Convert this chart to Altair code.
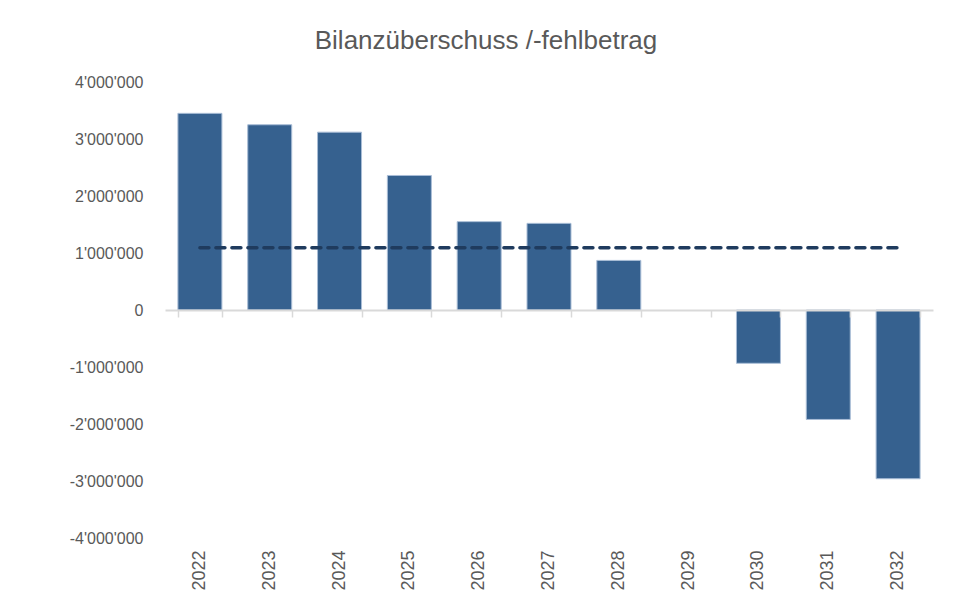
import altair as alt
import pandas as pd

years = ["2022", "2023", "2024", "2025", "2026", "2027", "2028", "2029", "2030", "2031", "2032"]
values = [3450000, 3250000, 3120000, 2360000, 1550000, 1520000, 870000, 0, -935000, -1920000, -2960000]
reference_line = [1090000] * len(years)

df = pd.DataFrame({"year": years, "value": values, "ref": reference_line})

FONT = "Liberation Sans, Arial, sans-serif"
TXT = "#595959"
W, H = 768, 456

xscale = alt.Scale(paddingInner=0.37, paddingOuter=0.185)
yscale = alt.Scale(domain=[-4000000, 4000000], nice=False, zero=False)

label_expr = "(datum.value < 0 ? '-' : '') + replace(format(abs(datum.value), ','), regexp(',', 'g'), \"'\")"

base = alt.Chart(df)

bars = base.mark_bar(color="#36618F", stroke="#A9BDD6", strokeWidth=1).encode(
    x=alt.X("year:O", scale=xscale, sort=years, title=None,
            axis=alt.Axis(orient="bottom", labelAngle=-90, labelAlign="right",
                          labelBaseline="middle", ticks=False, domain=False,
                          labelPadding=12, labelFont=FONT, labelFontSize=18,
                          labelColor=TXT)),
    y=alt.Y("value:Q", scale=yscale, title=None,
            axis=alt.Axis(values=[-4000000, -3000000, -2000000, -1000000, 0,
                                  1000000, 2000000, 3000000, 4000000],
                          labelExpr=label_expr, grid=False, ticks=False, domain=False,
                          labelPadding=22, labelFont=FONT, labelFontSize=16,
                          labelColor=TXT)),
    strokeOpacity=alt.condition("datum.value == 0", alt.value(0), alt.value(1)),
)

zero_axis = base.mark_tick(opacity=0).encode(
    x=alt.X("year:O", scale=xscale, sort=years, title=None,
            axis=alt.Axis(orient="bottom", offset=-H / 2, labels=False,
                          tickBand="extent", domainColor="#D9D9D9", domainWidth=2,
                          tickColor="#D9D9D9", tickWidth=1.5, tickSize=7, zindex=1)),
    y=alt.Y("value:Q", scale=yscale, title=None),
)

line = base.mark_line(color="#1F3B5E", strokeWidth=3.5, strokeDash=[9, 7],
                      strokeCap="round").encode(
    x=alt.X("year:O", scale=xscale, sort=years, axis=None),
    y=alt.Y("ref:Q", scale=yscale, title=None),
)

chart = alt.layer(bars, zero_axis, line).resolve_axis(x="independent").properties(
    width=W, height=H,
    background="white",
    title=alt.TitleParams("Bilanzüberschuss /-fehlbetrag", font=FONT, fontSize=26,
                          fontWeight="normal", color=TXT, offset=20, dx=-63),
    autosize=alt.AutoSizeParams(type="none"),
    padding={"left": 157, "top": 74, "right": 21, "bottom": 54},
).configure_view(stroke=None)

chart.save("out.html", embed_options={"renderer": "svg", "actions": False})
